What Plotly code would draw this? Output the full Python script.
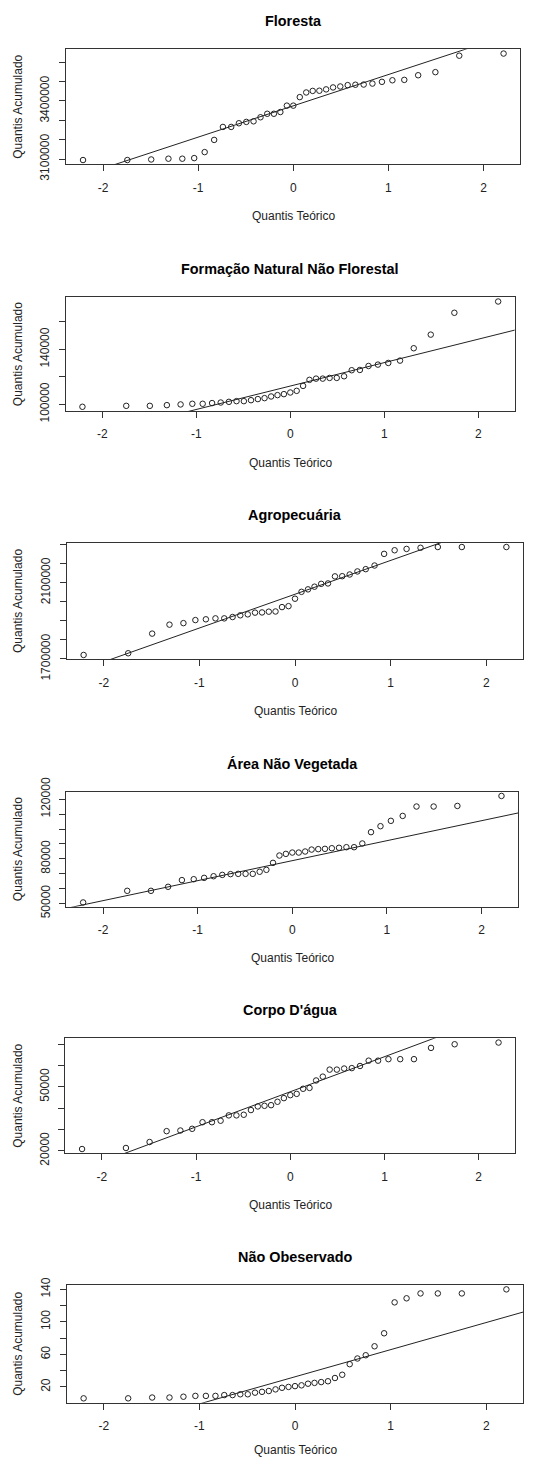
import numpy as np
import plotly.graph_objects as go

# ---------------- data ----------------
theo_q = [-2.211, -1.745, -1.494, -1.313, -1.167, -1.042, -0.932, -0.832, -0.740, -0.653,
          -0.572, -0.494, -0.418, -0.345, -0.274, -0.204, -0.136, -0.068, 0.0, 0.068,
          0.136, 0.204, 0.274, 0.345, 0.418, 0.494, 0.572, 0.653, 0.740, 0.832,
          0.932, 1.042, 1.167, 1.313, 1.494, 1.745, 2.211]

floresta = [3095000, 3095000, 3098000, 3102000, 3102000, 3105000, 3136000, 3199000, 3266000, 3266000,
            3285000, 3292000, 3295000, 3316000, 3334000, 3334000, 3343000, 3376000, 3376000, 3420000,
            3444000, 3452000, 3453000, 3460000, 3470000, 3475000, 3482000, 3484000, 3485000, 3490000,
            3499000, 3507000, 3509000, 3533000, 3549000, 3634000, 3645000]

formacao = [98200, 98900, 98900, 99400, 99900, 100400, 100400, 100900, 101300, 101800,
            102300, 102300, 103000, 103800, 104500, 105700, 106700, 107400, 108600, 109800,
            113400, 117800, 118700, 118700, 119200, 119200, 120400, 124800, 125000, 127900,
            128900, 130100, 131800, 140800, 150700, 166600, 174800]

agro = [1721000, 1730000, 1833000, 1880000, 1888000, 1904000, 1908000, 1913000, 1913000, 1920000,
        1929000, 1934000, 1943000, 1944000, 1948000, 1949000, 1972000, 1977000, 2016000, 2052000,
        2065000, 2079000, 2094000, 2096000, 2133000, 2134000, 2143000, 2159000, 2171000, 2190000,
        2251000, 2270000, 2277000, 2283000, 2287000, 2287000, 2287000]

area_nv = [50700, 58500, 58500, 61200, 65700, 66300, 67200, 68300, 69200, 69700,
           69900, 69900, 69900, 71300, 72600, 77300, 82200, 83300, 84200, 84200,
           84900, 86200, 86500, 86700, 87100, 87400, 87800, 87800, 90300, 97900,
           101900, 105500, 108800, 115100, 115100, 115500, 122200]

corpo = [20800, 21300, 24100, 29200, 29500, 30300, 33400, 33400, 34100, 36600,
         36600, 36900, 39100, 40800, 41100, 41400, 43000, 44700, 46100, 46700,
         49100, 49500, 53000, 54800, 58100, 58100, 58600, 58800, 59800, 62300,
         62300, 63000, 63000, 63000, 68300, 70000, 70800]

nao_obs = [6, 6, 7, 7, 8, 9, 9, 9, 10, 10, 11, 11, 13, 14, 15, 17, 19, 20, 21, 22,
           24, 25, 26, 27, 31, 35, 48, 55, 59, 70, 86, 124, 129, 135, 135, 135, 140]

titles = ["Floresta", "Formação Natural Não Florestal", "Agropecuária",
          "Área Não Vegetada", "Corpo D'água", "Não Obeservado"]
series = [floresta, formacao, agro, area_nv, corpo, nao_obs]

x_tick_vals = [-2, -1, 0, 1, 2]
x_tick_text = ["-2", "-1", "0", "1", "2"]

y_tick_vals = [
    [3100000, 3200000, 3300000, 3400000, 3500000, 3600000],
    [100000, 120000, 140000, 160000],
    [1700000, 1800000, 1900000, 2000000, 2100000, 2200000, 2300000],
    [50000, 60000, 70000, 80000, 90000, 100000, 110000, 120000],
    [20000, 30000, 40000, 50000, 60000, 70000],
    [20, 40, 60, 80, 100, 120, 140],
]
y_tick_text = [
    ["3100000", "", "", "3400000", "", ""],
    ["100000", "", "140000", ""],
    ["1700000", "", "", "", "2100000", "", ""],
    ["50000", "", "", "80000", "", "", "", "120000"],
    ["20000", "", "", "50000", "", ""],
    ["20", "", "60", "", "100", "", "140"],
]

# ---------------- layout geometry (pixels) ----------------
W, H = 534, 1459
boxes = [  # x0, x1, ytop, ybottom
    (66.2, 520.4, 49.3, 164.3),
    (65.8, 514.8, 297.3, 411.0),
    (66.7, 523.3, 542.7, 659.3),
    (66.4, 518.2, 791.7, 906.7),
    (65.4, 515.2, 1038.3, 1153.3),
    (66.7, 523.3, 1285.0, 1402.7),
]

FONT = "Liberation Sans, Arial, sans-serif"
INK = "#222222"
AX = "#333333"


def px(v):
    return v / W


def py(v):
    return 1 - v / H


def r_range(vals):
    lo, hi = min(vals), max(vals)
    pad = 0.04 * (hi - lo)
    return [lo - pad, hi + pad]


fig = go.Figure()
annotations = []
xr = r_range(theo_q)
q25 = -0.6744897501960817

for i, (ys, title, box) in enumerate(zip(series, titles, boxes)):
    k = "" if i == 0 else str(i + 1)
    x0, x1, yt, yb = box
    ys_arr = np.array(ys, dtype=float)
    q1, q3 = np.quantile(ys_arr, [0.25, 0.75])
    slope = (q3 - q1) / (2 * -q25)
    inter = q1 - slope * q25

    fig.add_trace(go.Scatter(
        x=theo_q, y=ys, mode="markers",
        marker=dict(symbol="circle-open", size=5.5, color=INK, line=dict(width=1, color=INK)),
        xaxis="x" + k, yaxis="y" + k, showlegend=False, hoverinfo="x+y"))
    lx = [xr[0], xr[1]]
    fig.add_trace(go.Scatter(
        x=lx, y=[inter + slope * v for v in lx], mode="lines",
        line=dict(color=INK, width=1),
        xaxis="x" + k, yaxis="y" + k, showlegend=False, hoverinfo="skip"))

    axis_common = dict(showgrid=False, zeroline=False, showline=True, mirror=True,
                       linecolor=AX, linewidth=1, ticks="outside", ticklen=6,
                       tickcolor=AX, tickwidth=1, automargin=False,
                       tickfont=dict(family=FONT, size=12, color=INK))
    fig.update_layout(**{
        "xaxis" + k: dict(domain=[px(x0), px(x1)], anchor="y" + k, range=xr,
                          tickmode="array", tickvals=x_tick_vals, ticktext=x_tick_text,
                          ticklabelstandoff=6, **axis_common),
        "yaxis" + k: dict(domain=[py(yb), py(yt)], anchor="x" + k, range=r_range(ys),
                          tickmode="array", tickvals=y_tick_vals[i], ticktext=y_tick_text[i],
                          tickangle=-90, ticklabelstandoff=5, **axis_common),
    })

    cx = (x0 + x1) / 2
    annotations.append(dict(text="<b>%s</b>" % title, x=px(cx), y=py(yt - 28),
                            xref="paper", yref="paper", showarrow=False,
                            xanchor="center", yanchor="middle",
                            font=dict(family=FONT, size=14.4, color="#000000")))
    annotations.append(dict(text="Quantis Teórico", x=px(cx), y=py(min(yb + 51.5, 1449.5)),
                            xref="paper", yref="paper", showarrow=False,
                            xanchor="center", yanchor="middle",
                            font=dict(family=FONT, size=12, color=INK)))
    annotations.append(dict(text="Quantis Acumulado", x=px(18), y=py((yt + yb) / 2),
                            xref="paper", yref="paper", showarrow=False, textangle=-90,
                            xanchor="center", yanchor="middle",
                            font=dict(family=FONT, size=12, color=INK)))

fig.update_layout(template="none", width=W, height=H,
                  margin=dict(l=0, r=0, t=0, b=0, autoexpand=False),
                  paper_bgcolor="white", plot_bgcolor="white",
                  annotations=annotations, showlegend=False,
                  font=dict(family=FONT, size=12, color=INK))

fig.write_html("out.html", config={"displayModeBar": False},
               post_script="document.body.style.margin='0';document.body.style.overflow='hidden';")
